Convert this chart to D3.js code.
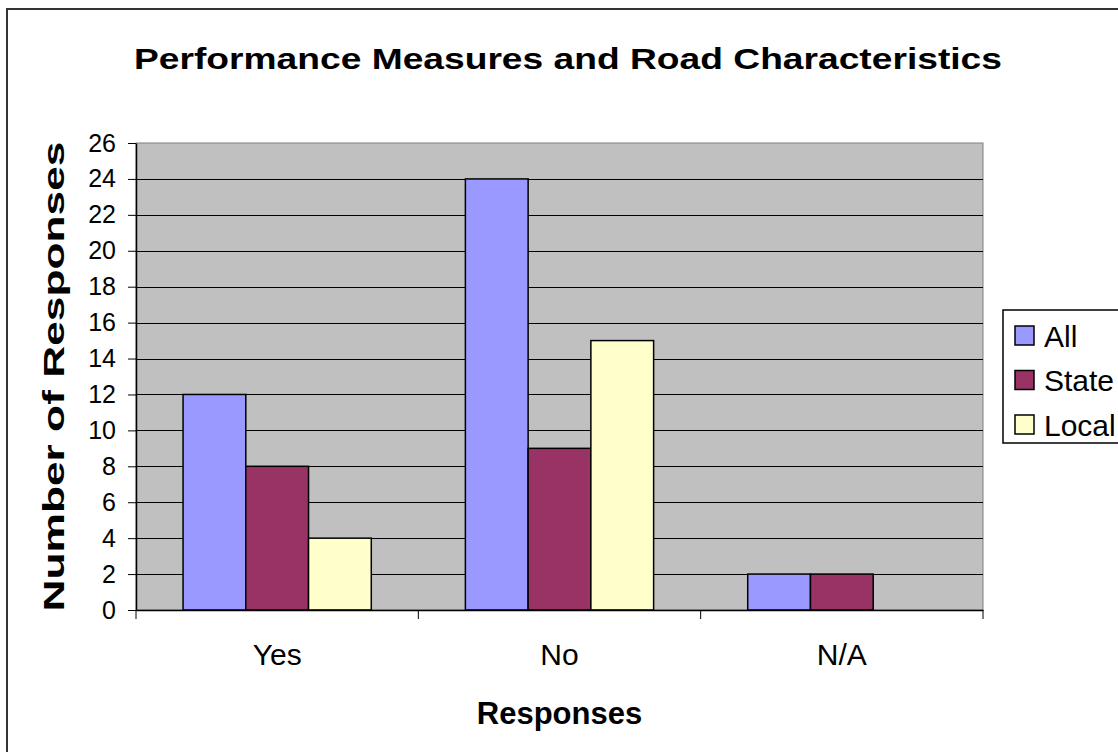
<!DOCTYPE html>
<html>
<head>
<meta charset="utf-8">
<script src="https://cdn.jsdelivr.net/npm/d3@7"></script>
<style>
  body { margin: 0; background: #fff; }
  svg { display: block; font-family: "Liberation Sans", Arial, sans-serif; }
</style>
</head>
<body>
<div id="chart-area"></div>
<script>
// chart data
var categories = ["Yes", "No", "N/A"];
var seriesNames = ["All", "State", "Local"];
var allValues = [12, 24, 2];
var stateValues = [8, 9, 2];
var localValues = [4, 15, 0];
var yTicks = [0, 2, 4, 6, 8, 10, 12, 14, 16, 18, 20, 22, 24, 26];
var colors = ["#9999FF", "#993366", "#FFFFCC"];

var seriesValues = [allValues, stateValues, localValues];

var width = 1118, height = 752;
var plot = {left: 136, right: 983, top: 143, bottom: 610};

var svg = d3.select("#chart-area").append("svg")
    .attr("width", width)
    .attr("height", height);

// outer chart border (runs off the right and bottom edge)
svg.append("rect")
    .attr("x", 7).attr("y", 9)
    .attr("width", 1130).attr("height", 760)
    .attr("fill", "#fff")
    .attr("stroke", "#333")
    .attr("stroke-width", 2);

var x = d3.scaleBand()
    .domain(categories)
    .range([plot.left, plot.right]);

var x1 = d3.scaleBand()
    .domain(seriesNames)
    .range([0, x.bandwidth()])
    .paddingOuter(0.75);

var y = d3.scaleLinear()
    .domain([0, 26])
    .range([plot.bottom, plot.top]);

// plot area background
svg.append("rect")
    .attr("x", plot.left).attr("y", plot.top)
    .attr("width", plot.right - plot.left)
    .attr("height", plot.bottom - plot.top)
    .attr("fill", "#C0C0C0")
    .attr("stroke", "#808080")
    .attr("stroke-width", 1);

// gridlines
svg.selectAll("line.grid")
    .data(yTicks.filter(function(d) { return d > 0 && d < 26; }))
    .enter()
    .append("line")
    .attr("class", "grid")
    .attr("x1", plot.left).attr("x2", plot.right)
    .attr("y1", function(d) { return Math.round(y(d)) + 0.5; })
    .attr("y2", function(d) { return Math.round(y(d)) + 0.5; })
    .attr("stroke", "#000")
    .attr("stroke-width", 1);

// bars
var rows = [];
categories.forEach(function(c, ci) {
    seriesNames.forEach(function(s, si) {
        rows.push({cat: c, series: s, value: seriesValues[si][ci], color: colors[si]});
    });
});

svg.selectAll("rect.bar")
    .data(rows.filter(function(d) { return d.value > 0; }))
    .enter()
    .append("rect")
    .attr("class", "bar")
    .attr("x", function(d) { return x(d.cat) + x1(d.series); })
    .attr("y", function(d) { return y(d.value); })
    .attr("width", x1.bandwidth())
    .attr("height", function(d) { return y(0) - y(d.value); })
    .attr("fill", function(d) { return d.color; })
    .attr("stroke", "#000")
    .attr("stroke-width", 1.5);

// y axis
var yAxis = svg.append("g")
    .attr("transform", "translate(" + plot.left + ",0)")
    .call(d3.axisLeft(y).tickValues(yTicks).tickSize(8).tickPadding(12).tickSizeOuter(0));
yAxis.select(".domain").attr("stroke", "#000").attr("stroke-width", 1.5);
yAxis.selectAll(".tick line").attr("stroke", "#000");
yAxis.selectAll(".tick text")
    .attr("font-size", 25)
    .attr("fill", "#000")
    .attr("font-family", "Liberation Sans, Arial, sans-serif");

// x axis: labels centred in bands, ticks on band edges
var xAxis = svg.append("g")
    .attr("transform", "translate(0," + plot.bottom + ")")
    .call(d3.axisBottom(x).tickSize(0).tickPadding(34).tickSizeOuter(0));
xAxis.select(".domain").attr("stroke", "#000").attr("stroke-width", 1.5);
xAxis.selectAll(".tick text")
    .attr("font-size", 30)
    .attr("fill", "#000")
    .attr("font-family", "Liberation Sans, Arial, sans-serif");

var edges = categories.map(function(c) { return x(c); }).concat([x.range()[1]]);
xAxis.selectAll("line.edge")
    .data(edges)
    .enter()
    .append("line")
    .attr("class", "edge")
    .attr("x1", function(d) { return d; })
    .attr("x2", function(d) { return d; })
    .attr("y1", 0).attr("y2", 9)
    .attr("stroke", "#000");

// titles
svg.append("text")
    .attr("x", 568).attr("y", 69)
    .attr("text-anchor", "middle")
    .attr("font-size", 30)
    .attr("font-weight", "bold")
    .attr("textLength", 868)
    .attr("lengthAdjust", "spacingAndGlyphs")
    .text("Performance Measures and Road Characteristics");

svg.append("text")
    .attr("x", (plot.left + plot.right) / 2).attr("y", 724)
    .attr("text-anchor", "middle")
    .attr("font-size", 31)
    .attr("font-weight", "bold")
    .text("Responses");

svg.append("text")
    .attr("transform", "translate(64," + ((plot.top + plot.bottom) / 2) + ") rotate(-90)")
    .attr("text-anchor", "middle")
    .attr("font-size", 30)
    .attr("font-weight", "bold")
    .attr("textLength", 470)
    .attr("lengthAdjust", "spacingAndGlyphs")
    .text("Number of Responses");

// legend (runs off the right edge)
var legend = svg.append("g").attr("transform", "translate(1003,310)");
legend.append("rect")
    .attr("x", 0).attr("y", 0)
    .attr("width", 140).attr("height", 133)
    .attr("fill", "#fff")
    .attr("stroke", "#000")
    .attr("stroke-width", 1.5);

var items = legend.selectAll("g.item")
    .data(seriesNames)
    .enter()
    .append("g")
    .attr("class", "item")
    .attr("transform", function(d, i) { return "translate(0," + (25.5 + i * 44.5) + ")"; });

items.append("rect")
    .attr("x", 12).attr("y", -9.5)
    .attr("width", 19).attr("height", 19)
    .attr("fill", function(d, i) { return colors[i]; })
    .attr("stroke", "#000")
    .attr("stroke-width", 1.5);

items.append("text")
    .attr("x", 41).attr("y", 11)
    .attr("font-size", 30)
    .text(function(d) { return d; });
</script>
</body>
</html>
